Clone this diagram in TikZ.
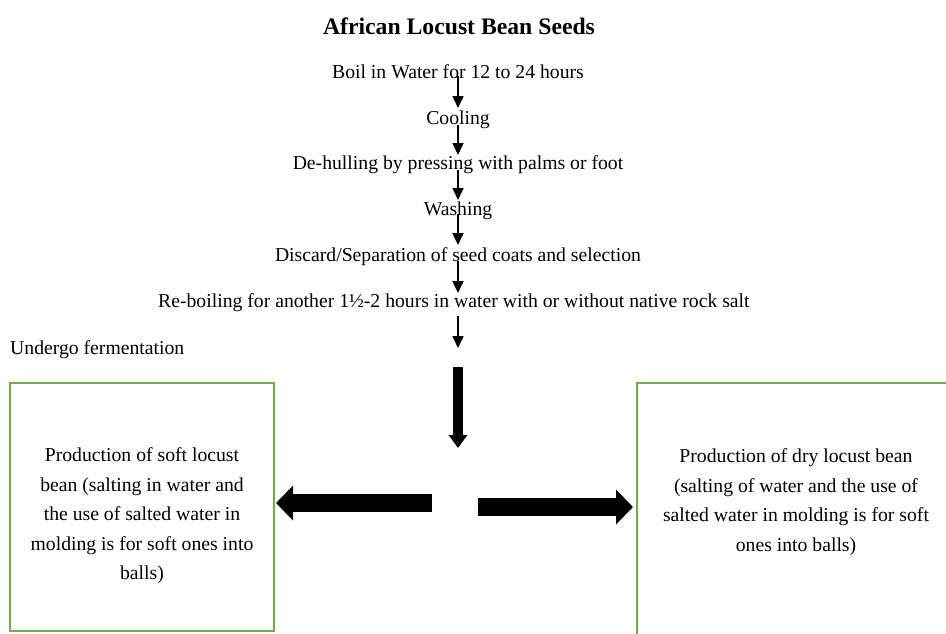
\documentclass[tikz,border=0pt]{standalone}
\usepackage{fontspec}
\setmainfont{Liberation Serif}
\usetikzlibrary{arrows.meta}
\definecolor{boxgreen}{RGB}{112,173,71}
\tikzset{
  steptext/.style={inner sep=0pt, font=\fontsize{19.7}{23}\selectfont},
  titletext/.style={inner sep=0pt, font=\fontsize{23.7}{28}\selectfont\bfseries},
  boxtext/.style={inner sep=0pt, align=center, font=\fontsize{19.7}{29.5}\selectfont},
  thinarrow/.style={line width=1.5pt, -{Triangle[width=11pt,length=12pt]}},
  fatdown/.style={line width=10pt, -{Triangle[width=18pt,length=13pt]}},
  fatside/.style={line width=18pt, -{Triangle[width=34pt,length=17pt]}},
  greenbox/.style={draw=boxgreen, line width=2pt}
}
\begin{document}
\begin{tikzpicture}[x=1pt,y=-1pt]
\useasboundingbox (0,0) rectangle (946,633);
\node[titletext] (title) at (459,26) {African Locust Bean Seeds};
\node[steptext] (boil) at (458,72) {Boil in Water for 12 to 24 hours};
\node[steptext] (cool) at (458,120) {Cooling};
\node[steptext] (dehull) at (458,165) {De-hulling by pressing with palms or foot};
\node[steptext] (wash) at (458,211) {Washing};
\node[steptext] (discard) at (458,257) {Discard/Separation of seed coats and selection};
\node[steptext, anchor=west] (reboil) at (158,303) {Re-boiling for another 1½-2 hours in water with or without native rock salt};
\node[steptext, anchor=west] (ferm) at (10,350) {Undergo fermentation};

\draw[greenbox] (10,383) rectangle (274,631);
\node[boxtext] (soft) at (142,516) {Production of soft locust\\bean (salting in water and\\the use of salted water in\\molding is for soft ones into\\balls)};
\draw[greenbox] (947,383) -- (637,383) -- (637,640);
\node[boxtext] (dry) at (796,502) {Production of dry locust bean\\(salting of water and the use of\\salted water in molding is for soft\\ones into balls)};

\coordinate (a1s) at (458,76); \coordinate (a1e) at (458,108);
\coordinate (a2s) at (458,125); \coordinate (a2e) at (458,155);
\coordinate (a3s) at (458,170); \coordinate (a3e) at (458,200);
\coordinate (a4s) at (458,214); \coordinate (a4e) at (458,245);
\coordinate (a5s) at (458,261); \coordinate (a5e) at (458,293);
\coordinate (a6s) at (458,316); \coordinate (a6e) at (458,348);
\draw[thinarrow] (a1s) -- (a1e);
\draw[thinarrow] (a2s) -- (a2e);
\draw[thinarrow] (a3s) -- (a3e);
\draw[thinarrow] (a4s) -- (a4e);
\draw[thinarrow] (a5s) -- (a5e);
\draw[thinarrow] (a6s) -- (a6e);

\coordinate (ds) at (458,367); \coordinate (de) at (458,448);
\draw[fatdown] (ds) -- (de);
\coordinate (ls) at (432,503); \coordinate (le) at (276,503);
\draw[fatside] (ls) -- (le);
\coordinate (rs) at (478,507); \coordinate (re) at (633,507);
\draw[fatside] (rs) -- (re);
\end{tikzpicture}
\end{document}
